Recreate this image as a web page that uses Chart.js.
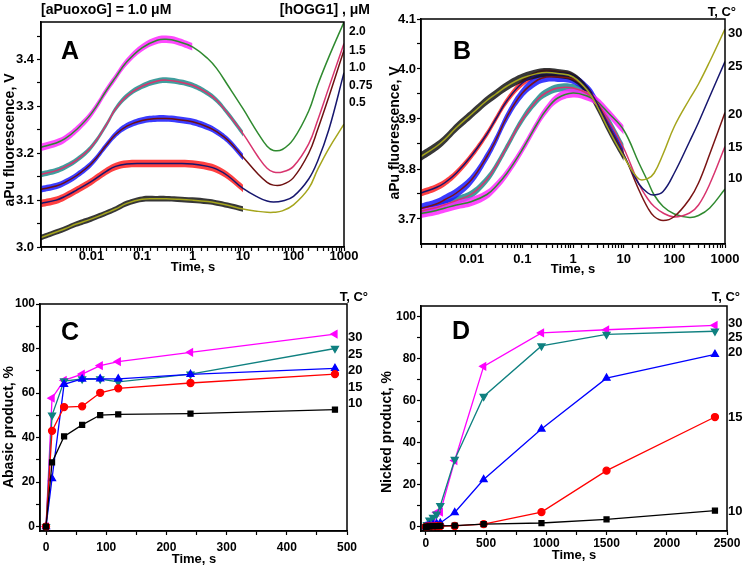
<!DOCTYPE html>
<html>
<head>
<meta charset="utf-8">
<script src="https://cdn.jsdelivr.net/npm/chart.js@4.4.1/dist/chart.umd.min.js"></script>
<style>
    body { margin: 0; background: #fff; }
    #wrap { position: relative; width: 745px; height: 569px; background: #fff; }
    canvas { position: absolute; }
</style>
</head>
<body>
<div id="wrap">
    <canvas id="chartA" width="372" height="285" style="left:0;top:0"></canvas>
    <canvas id="chartB" width="373" height="285" style="left:372px;top:0"></canvas>
    <canvas id="chartC" width="372" height="284" style="left:0;top:285px"></canvas>
    <canvas id="chartD" width="373" height="284" style="left:372px;top:285px"></canvas>
</div>
<script>
// time points (s) for the fitted curves of A and B
const tFit = [0.001, 0.002, 0.003, 0.005, 0.01, 0.02, 0.03, 0.05, 0.1, 0.2, 0.3, 0.5, 1, 2, 3, 5, 10, 20, 30, 40, 60, 100, 200, 300, 500, 1000];

// Panel A - fits, [hOGG1] uM
const aFit20  = [3.213, 3.222, 3.231, 3.250, 3.285, 3.335, 3.362, 3.395, 3.425, 3.441, 3.443, 3.439, 3.427, 3.402, 3.381, 3.345, 3.295, 3.242, 3.215, 3.206, 3.208, 3.230, 3.290, 3.345, 3.405, 3.480];
const aFit15  = [3.155, 3.163, 3.171, 3.185, 3.214, 3.262, 3.295, 3.322, 3.343, 3.354, 3.356, 3.353, 3.345, 3.328, 3.313, 3.285, 3.242, 3.192, 3.168, 3.160, 3.160, 3.172, 3.220, 3.270, 3.340, 3.434];
const aFit10  = [3.123, 3.130, 3.138, 3.152, 3.178, 3.218, 3.240, 3.258, 3.270, 3.274, 3.274, 3.272, 3.267, 3.256, 3.246, 3.228, 3.192, 3.155, 3.138, 3.132, 3.133, 3.148, 3.200, 3.250, 3.320, 3.420];
const aFit075 = [3.093, 3.100, 3.108, 3.121, 3.140, 3.162, 3.172, 3.177, 3.178, 3.178, 3.178, 3.178, 3.177, 3.172, 3.166, 3.152, 3.125, 3.106, 3.098, 3.096, 3.098, 3.108, 3.145, 3.183, 3.250, 3.372];
const aFit05  = [3.020, 3.032, 3.039, 3.049, 3.060, 3.073, 3.081, 3.093, 3.102, 3.103, 3.103, 3.102, 3.100, 3.097, 3.094, 3.089, 3.081, 3.076, 3.074, 3.074, 3.077, 3.090, 3.125, 3.165, 3.210, 3.262];
// raw traces: last time recorded and noise half-width (V)
const aNoiseEnd   = [1.2, 10, 10, 10, 10];
const aNoiseWidth = [0.008, 0.006, 0.007, 0.008, 0.006];

// Panel B - fits, T in C
const bFit30 = [3.825, 3.845, 3.860, 3.883, 3.910, 3.937, 3.950, 3.966, 3.982, 3.991, 3.993, 3.991, 3.984, 3.955, 3.925, 3.880, 3.825, 3.780, 3.781, 3.792, 3.830, 3.885, 3.940, 3.970, 4.015, 4.080];
const bFit25 = [3.752, 3.763, 3.773, 3.792, 3.827, 3.870, 3.900, 3.937, 3.972, 3.989, 3.992, 3.990, 3.984, 3.958, 3.930, 3.885, 3.828, 3.770, 3.752, 3.748, 3.755, 3.792, 3.855, 3.893, 3.945, 4.015];
const bFit20 = [3.721, 3.730, 3.739, 3.752, 3.779, 3.825, 3.858, 3.905, 3.952, 3.978, 3.984, 3.984, 3.980, 3.958, 3.932, 3.888, 3.830, 3.758, 3.722, 3.705, 3.697, 3.705, 3.740, 3.772, 3.830, 3.913];
const bFit15 = [3.716, 3.723, 3.729, 3.737, 3.750, 3.779, 3.805, 3.845, 3.899, 3.939, 3.953, 3.962, 3.962, 3.950, 3.932, 3.898, 3.842, 3.770, 3.740, 3.725, 3.712, 3.704, 3.712, 3.728, 3.770, 3.845];
const bFit10 = [3.711, 3.717, 3.722, 3.728, 3.735, 3.749, 3.765, 3.792, 3.839, 3.892, 3.919, 3.942, 3.952, 3.945, 3.935, 3.912, 3.878, 3.812, 3.775, 3.748, 3.725, 3.710, 3.703, 3.707, 3.722, 3.760];
const bNoiseEnd   = [10, 10, 10, 10, 10];
const bNoiseWidth = [0.009, 0.007, 0.010, 0.008, 0.009];

// Panel C - abasic product, %
const cTime = [0, 10, 30, 60, 90, 120, 240, 480];
const cT10 = [0, 28.8, 40.5, 45.7, 50.1, 50.4, 50.7, 52.5];
const cT15 = [0, 43.0, 53.7, 54.0, 60.1, 62.1, 64.5, 68.5];
const cT20 = [0, 21.6, 63.9, 66.3, 66.4, 66.4, 68.4, 71.1];
const cT25 = [0, 50.0, 65.4, 66.3, 66.3, 65.0, 68.5, 80.0];
const cT30 = [0, 57.7, 65.7, 68.5, 72.3, 74.1, 78.3, 86.5];

// Panel D - nicked product, %
const dTime = [0, 10, 30, 60, 90, 120, 240, 480, 960, 1500, 2400];
const dT10 = [0, 0.1, 0.2, 0.3, 0.3, 0.4, 0.6, 1.3, 1.8, 3.5, 7.7];
const dT15 = [0, 0.1, 0.2, 0.2, 0.3, 0.3, 0.4, 1.3, 7.0, 26.7, 52.2];
const dT20 = [0, 0.3, 0.6, 1.0, 1.4, 1.8, 6.8, 22.5, 46.5, 70.7, 82.0];
const dT25 = [0, 1.0, 3.2, 4.5, 6.0, 10.0, 32.0, 62.0, 86.0, 91.5, 93.0];
const dT30 = [0, 0.4, 1.0, 2.0, 6.8, 7.0, 31.5, 76.3, 92.2, 93.7, 95.8];

// tick positions (every tick gets a mark, only some get a label)
const aYTicks = [3.0, 3.05, 3.1, 3.15, 3.2, 3.25, 3.3, 3.35, 3.4, 3.45];
const bYTicks = [3.7, 3.75, 3.8, 3.85, 3.9, 3.95, 4.0, 4.05, 4.1];
const cXTicks = [0, 50, 100, 150, 200, 250, 300, 350, 400, 450, 500];
const cYTicks = [0, 10, 20, 30, 40, 50, 60, 70, 80, 90, 100];
const dXTicks = [0, 250, 500, 750, 1000, 1250, 1500, 1750, 2000, 2250, 2500];
const dYTicks = [0, 10, 20, 30, 40, 50, 60, 70, 80, 90, 100];

const FONT = '"Liberation Sans", Arial, sans-serif';

// texts, panel letters and frame drawn on top of each chart
const panelText = {
    id: 'panelText',
    afterDraw(chart, args, opts) {
        const ctx = chart.ctx;
        const a = chart.chartArea;
        ctx.save();
        ctx.lineWidth = 1.5;
        ctx.strokeStyle = '#000';
        ctx.strokeRect(a.left, a.top, a.right - a.left, a.bottom - a.top);
        ctx.fillStyle = '#000';
        (opts.items || []).forEach(function (it) {
            ctx.save();
            ctx.font = 'bold ' + (it.size || 13) + 'px ' + FONT;
            ctx.textAlign = it.align || 'left';
            ctx.textBaseline = 'middle';
            ctx.translate(it.x, it.y);
            if (it.rot) ctx.rotate(it.rot);
            ctx.fillText(it.text, 0, 0);
            ctx.restore();
        });
        ctx.restore();
    }
};

function pts(xs, ys) {
    return xs.map((x, i) => ({x: x, y: ys[i]}));
}

function logLabel(v) {
    const e = Math.log10(v);
    if (Math.abs(e - Math.round(e)) < 1e-6 && v > 0.002) return String(Math.pow(10, Math.round(e)));
    return '';
}

function stepLabel(step, digits) {
    return function (v) {
        const r = Math.round(v / step) * step;
        if (Math.abs(v - r) > 1e-6) return '';
        return r.toFixed(digits);
    };
}

function fixedTicks(list) {
    return function (scale) {
        scale.ticks = list.map(v => ({value: v}));
    };
}

const tickGrid = {display: true, drawOnChartArea: false, tickLength: 4, color: '#000', tickColor: '#000', tickWidth: 1.2};

function axisX(opts) {
    const ax = {
        type: opts.type, min: opts.min, max: opts.max,
        grid: tickGrid,
        border: {display: true, color: '#000', width: 1.5},
        afterFit: function (s) { s.height = opts.h; },
        ticks: {autoSkip: false, maxRotation: 0, color: '#000', padding: opts.pad,
            font: {family: FONT, size: opts.size, weight: 'bold'}, callback: opts.cb}
    };
    if (opts.list) ax.afterBuildTicks = fixedTicks(opts.list);
    return ax;
}

function axisY(opts) {
    return {
        min: opts.min, max: opts.max,
        grid: tickGrid,
        border: {display: true, color: '#000', width: 1.5},
        afterFit: function (s) { s.width = opts.w; },
        afterBuildTicks: fixedTicks(opts.list),
        ticks: {autoSkip: false, color: '#000', padding: opts.pad,
            font: {family: FONT, size: opts.size, weight: 'bold'}, callback: opts.cb}
    };
}

// noisy raw trace as a filled band round the fit, then the fit line on top
function kineticSets(fits, fitColors, noiseColors, noiseEnd, noiseWidth, noiseOrder) {
    const sets = [];
    fits.forEach(function (fit, k) {
        const idx = tFit.map((t, i) => i).filter(i => tFit[i] <= noiseEnd[k]);
        const w = noiseWidth[k];
        sets.push({
            data: idx.map(i => ({x: tFit[i], y: fit[i] - w})),
            borderWidth: 0, pointRadius: 0, tension: 0.4, fill: false, order: noiseOrder[k]
        });
        sets.push({
            data: idx.map(i => ({x: tFit[i], y: fit[i] + w})),
            borderWidth: 0, pointRadius: 0, tension: 0.4, fill: '-1',
            backgroundColor: noiseColors[k], order: noiseOrder[k]
        });
    });
    fits.forEach(function (fit, k) {
        sets.push({
            data: pts(tFit, fit), borderColor: fitColors[k], borderWidth: 1.5,
            pointRadius: 0, tension: 0.4, fill: false, order: 0
        });
    });
    return sets;
}

const baseOpts = {
    responsive: false,
    animation: false,
    events: [],
    plugins: {legend: {display: false}, tooltip: {enabled: false}}
};

// ---------- A ----------
new Chart(document.getElementById('chartA'), {
    type: 'line',
    data: {
        datasets: kineticSets(
            [aFit20, aFit15, aFit10, aFit075, aFit05],
            ['#2f8a2f', '#d8346e', '#6e1010', '#16166e', '#a5a51c'],
            ['rgba(255,40,255,0.85)', 'rgba(30,140,140,0.85)', 'rgba(25,25,255,0.85)', 'rgba(255,30,30,0.85)', 'rgba(20,20,20,0.85)'],
            aNoiseEnd, aNoiseWidth, [1, 2, 3, 4, 5])
    },
    options: Object.assign({}, baseOpts, {
        layout: {padding: {top: 22, right: 28, left: 0, bottom: 0}},
        scales: {
            x: axisX({type: 'logarithmic', min: 0.001, max: 1000, h: 38, pad: -2, size: 13, cb: logLabel}),
            y: axisY({min: 3.0, max: 3.48, w: 41, pad: 3, size: 13, list: aYTicks, cb: stepLabel(0.1, 1)})
        },
        plugins: Object.assign({}, baseOpts.plugins, {
            panelText: {items: [
                {text: '[aPuoxoG] = 1.0 \u03bcM', x: 41, y: 10, size: 14},
                {text: '[hOGG1] , \u03bcM', x: 370, y: 10, size: 14, align: 'right'},
                {text: '2.0', x: 349, y: 32, size: 12}, {text: '1.5', x: 349, y: 51, size: 12},
                {text: '1.0', x: 349, y: 68, size: 12}, {text: '0.75', x: 349, y: 86, size: 12},
                {text: '0.5', x: 349, y: 103, size: 12},
                {text: 'A', x: 61, y: 52, size: 25},
                {text: 'aPu fluorescence, V', x: 10, y: 140, size: 14, align: 'center', rot: -Math.PI / 2},
                {text: 'Time, s', x: 193, y: 267, align: 'center'}
            ]}
        })
    }),
    plugins: [panelText]
});

// ---------- B ----------
new Chart(document.getElementById('chartB'), {
    type: 'line',
    data: {
        datasets: kineticSets(
            [bFit30, bFit25, bFit20, bFit15, bFit10],
            ['#a5a51c', '#16166e', '#7a1414', '#d8346e', '#2f8a2f'],
            ['rgba(20,20,20,0.85)', 'rgba(255,30,30,0.85)', 'rgba(25,25,255,0.85)', 'rgba(30,140,140,0.85)', 'rgba(255,40,255,0.85)'],
            bNoiseEnd, bNoiseWidth, [2, 4, 3, 5, 1])
    },
    options: Object.assign({}, baseOpts, {
        layout: {padding: {top: 19, right: 20, left: 0, bottom: 0}},
        scales: {
            x: axisX({type: 'logarithmic', min: 0.001, max: 1000, h: 41, pad: 4, size: 13, cb: logLabel}),
            y: axisY({min: 3.65, max: 4.1, w: 49, pad: 1, size: 13, list: bYTicks, cb: stepLabel(0.1, 1)})
        },
        plugins: Object.assign({}, baseOpts.plugins, {
            panelText: {items: [
                {text: 'T, C\u00b0', x: 364, y: 12, align: 'right'},
                {text: '30', x: 356, y: 33}, {text: '25', x: 356, y: 66}, {text: '20', x: 356, y: 114},
                {text: '15', x: 356, y: 147}, {text: '10', x: 356, y: 178},
                {text: 'B', x: 81, y: 52, size: 25},
                {text: 'aPu fluorescence, V', x: 23, y: 133, size: 14, align: 'center', rot: -Math.PI / 2},
                {text: 'Time, s', x: 201, y: 269, align: 'center'}
            ]}
        })
    }),
    plugins: [panelText]
});

// ---------- C / D ----------
function productSets(xs, series) {
    const styles = [
        {c: '#000000', s: 'rect', r: 3.5, rot: 0},
        {c: '#ff0000', s: 'circle', r: 3.5, rot: 0},
        {c: '#0000ff', s: 'triangle', r: 4, rot: 0},
        {c: '#0f8080', s: 'triangle', r: 4, rot: 180},
        {c: '#ff00ff', s: 'triangle', r: 4, rot: -90}
    ];
    return series.map((ys, k) => ({
        data: pts(xs, ys),
        borderColor: styles[k].c, backgroundColor: styles[k].c,
        pointBackgroundColor: styles[k].c, pointBorderColor: styles[k].c,
        pointStyle: styles[k].s, pointRadius: styles[k].r, pointRotation: styles[k].rot,
        borderWidth: 1.3, tension: 0, fill: false
    }));
}

new Chart(document.getElementById('chartC'), {
    type: 'line',
    data: {datasets: productSets(cTime, [cT10, cT15, cT20, cT25, cT30])},
    options: Object.assign({}, baseOpts, {
        layout: {padding: {top: 19, right: 25, left: 0, bottom: 0}},
        scales: {
            x: axisX({type: 'linear', min: -10, max: 500, h: 38, pad: 5, size: 12, list: cXTicks, cb: stepLabel(100, 0)}),
            y: axisY({min: -2, max: 100, w: 40, pad: 1, size: 12, list: cYTicks, cb: stepLabel(20, 0)})
        },
        plugins: Object.assign({}, baseOpts.plugins, {
            panelText: {items: [
                {text: 'T, C\u00b0', x: 368, y: 12, align: 'right'},
                {text: '30', x: 348, y: 52}, {text: '25', x: 348, y: 69}, {text: '20', x: 348, y: 85},
                {text: '15', x: 348, y: 102}, {text: '10', x: 348, y: 118},
                {text: 'C', x: 61, y: 48, size: 25},
                {text: 'Abasic product, %', x: 9, y: 142, size: 14, align: 'center', rot: -Math.PI / 2},
                {text: 'Time, s', x: 194, y: 274, align: 'center'}
            ]}
        })
    }),
    plugins: [panelText]
});

new Chart(document.getElementById('chartD'), {
    type: 'line',
    data: {datasets: productSets(dTime, [dT10, dT15, dT20, dT25, dT30])},
    options: Object.assign({}, baseOpts, {
        layout: {padding: {top: 21, right: 18, left: 0, bottom: 0}},
        scales: {
            x: axisX({type: 'linear', min: -40, max: 2500, h: 38, pad: 1, size: 12, list: dXTicks, cb: stepLabel(500, 0)}),
            y: axisY({min: -2, max: 105, w: 49, pad: 1, size: 12, list: dYTicks, cb: stepLabel(20, 0)})
        },
        plugins: Object.assign({}, baseOpts.plugins, {
            panelText: {items: [
                {text: 'T, C\u00b0', x: 368, y: 12, align: 'right'},
                {text: '30', x: 356, y: 38}, {text: '25', x: 356, y: 52}, {text: '20', x: 356, y: 67},
                {text: '15', x: 356, y: 132}, {text: '10', x: 356, y: 226},
                {text: 'D', x: 80, y: 47, size: 25},
                {text: 'Nicked product, %', x: 15, y: 147, size: 14, align: 'center', rot: -Math.PI / 2},
                {text: 'Time, s', x: 202, y: 270, align: 'center'}
            ]}
        })
    }),
    plugins: [panelText]
});
</script>
</body>
</html>
